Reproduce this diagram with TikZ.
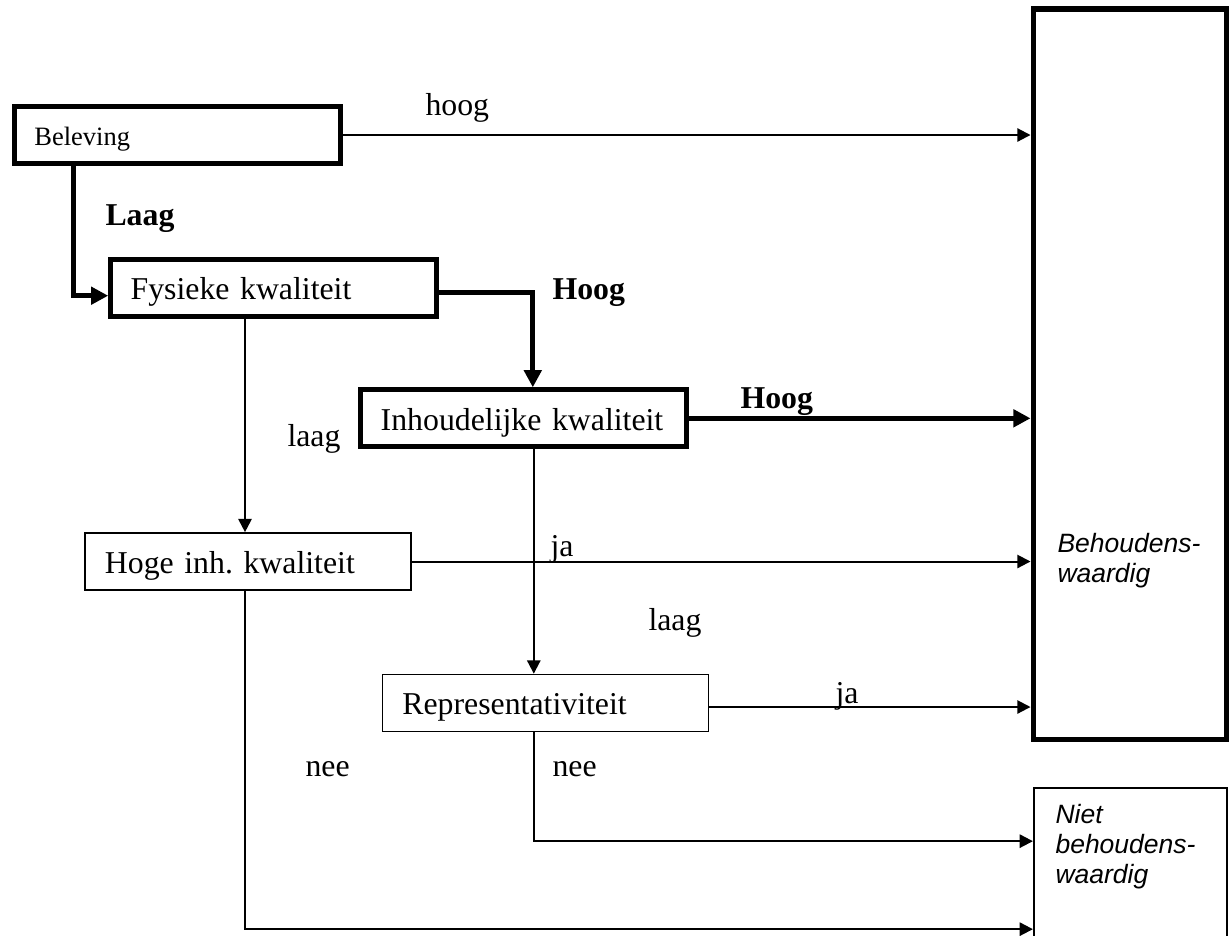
\documentclass[tikz,border=0pt]{standalone}
\usepackage{fontspec}
\setmainfont{Liberation Serif}
\setsansfont{Liberation Sans}
\usetikzlibrary{arrows.meta}
\frenchspacing

\tikzset{
  flowbox/.style={draw, rectangle, text width=108pt, inner xsep=7.5pt, inner ysep=0pt,
    minimum height=21.5pt, align=left, font=\fontsize{12}{14}\selectfont,
    text height=12pt, text depth=3pt},
  thickbox/.style={flowbox, line width=1.9pt},
  thinbox/.style={flowbox, line width=0.65pt},
  bigbox/.style={draw, rectangle, inner sep=0pt, minimum width=73pt},
  thinline/.style={line width=0.75pt, -{Triangle[length=5pt,width=5pt]}},
  thickline/.style={line width=1.9pt, -{Triangle[length=6.5pt,width=6.5pt]}},
  lbl/.style={font=\fontsize{12}{14}\selectfont, inner sep=0pt, anchor=base west},
  boldlbl/.style={lbl, font=\fontsize{12}{14}\selectfont\bfseries},
  sidetext/.style={font=\fontsize{10}{11.3}\selectfont\sffamily\itshape, align=left,
    inner sep=0pt, anchor=base west}
}

\begin{document}
\begin{tikzpicture}[x=0.3774pt, y=-0.3774pt]
	\clip (0,0) rectangle (1230,935);

	\node[thickbox, font=\fontsize{10}{12}\selectfont, text height=10pt, text depth=2pt]
	    (beleving) at (177.5,135) {Beleving};
	\node[thickbox] (fysiek) at (273.7,287.7) {Fysieke kwaliteit};
	\node[thickbox] (inhoud) at (523.8,418.3) {\mbox{Inhoudelijke kwaliteit}};
	\node[thinbox] (hoge) at (248,561.5) {Hoge inh. kwaliteit};
	\node[thinbox] (repr) at (545.5,703) {Representativiteit};

	\node[bigbox, line width=1.9pt, minimum height=275.5pt] (bw) at (1129.75,374) {};
	\node[bigbox, line width=0.65pt, minimum height=80pt] (niet) at (1130.5,894) {};
	\node[sidetext] (bwtext) at (1057,582) {Behoudens-\\waardig};
	\node[sidetext] (niettext) at (1055,883) {Niet\\behoudens-\\waardig};

	\draw[thinline] (beleving.east) -- (beleving.east -| bw.west);
	\draw[thickline] ([shift={(61,0)}]beleving.south west) |- ([shift={(0,8)}]fysiek.west);
	\draw[thickline] ([shift={(0,5)}]fysiek.east) -| ([shift={(9,0)}]inhoud.north);
	\draw[thickline] (inhoud.east) -- (inhoud.east -| bw.west);
	\draw[thinline] ([shift={(-3,0)}]hoge.north |- fysiek.south) -- ([shift={(-3,0)}]hoge.north);
	\draw[thinline] (hoge.east) -- (hoge.east -| bw.west);
	\draw[thinline] ([shift={(10,0)}]inhoud.south) -- ([shift={(10,0)}]inhoud.south |- repr.north);
	\draw[thinline] ([shift={(0,4)}]repr.east) -- ([shift={(0,4)}]repr.east -| bw.west);
	\draw[thinline] ([shift={(-12,0)}]repr.south) |- ([shift={(0,54)}]niet.north west);
	\draw[thinline] ([shift={(-3,0)}]hoge.south) |- ([shift={(0,142)}]niet.north west);

	\foreach \x/\y/\txt [count=\i] in {425/115/hoog, 287/446/laag, 550/556/ja,
	    648/630/laag, 835/703/ja, 305/776/nee, 552/776/nee} {
	    \node[lbl] (lbl\i) at (\x,\y) {\txt};
	    }
	\foreach \x/\y/\txt [count=\i] in {105/225.7/Laag, 552/299/Hoog, 740/408/Hoog} {
	    \node[boldlbl] (blbl\i) at (\x,\y) {\txt};
	    }
\end{tikzpicture}
\end{document}
